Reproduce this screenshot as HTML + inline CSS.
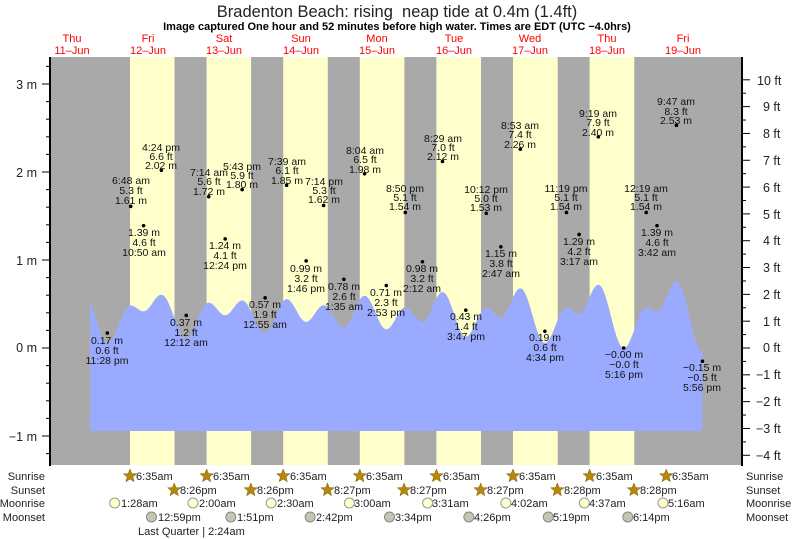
<!DOCTYPE html>
<html><head><meta charset="utf-8"><style>
html,body{margin:0;padding:0;background:#fff}
svg{display:block;font-family:"Liberation Sans",sans-serif}
.l{font-size:10.5px;fill:#111;text-anchor:middle}
.d{font-size:11px;fill:#f00;text-anchor:middle}
.r{font-size:11px;fill:#222}
</style></head><body>
<svg id="s" width="793" height="539" viewBox="0 0 793 539">
<text x="397" y="17" font-size="16.5" text-anchor="middle" fill="#222">Bradenton Beach: rising &#160;neap tide at 0.4m (1.4ft)</text>
<text x="397" y="30" font-size="11" font-weight="bold" text-anchor="middle" fill="#000">Image captured One hour and 52 minutes before high water. Times are EDT (UTC −4.0hrs)</text>
<g class="d">
<text x="72" y="42">Thu</text><text x="72" y="54">11–Jun</text>
<text x="148" y="42">Fri</text><text x="148" y="54">12–Jun</text>
<text x="224" y="42">Sat</text><text x="224" y="54">13–Jun</text>
<text x="301" y="42">Sun</text><text x="301" y="54">14–Jun</text>
<text x="377" y="42">Mon</text><text x="377" y="54">15–Jun</text>
<text x="454" y="42">Tue</text><text x="454" y="54">16–Jun</text>
<text x="530" y="42">Wed</text><text x="530" y="54">17–Jun</text>
<text x="607" y="42">Thu</text><text x="607" y="54">18–Jun</text>
<text x="683" y="42">Fri</text><text x="683" y="54">19–Jun</text>
</g>
<rect x="50" y="57" width="692" height="408" fill="#a9a9a9"/>
<g fill="#ffffcc">
<rect x="130" y="57" width="44.5" height="408"/>
<rect x="206.6" y="57" width="44.5" height="408"/>
<rect x="283.2" y="57" width="44.6" height="408"/>
<rect x="359.8" y="57" width="44.6" height="408"/>
<rect x="436.4" y="57" width="44.6" height="408"/>
<rect x="513" y="57" width="44.7" height="408"/>
<rect x="589.6" y="57" width="44.7" height="408"/>
</g>
<path id="tide" fill="#9aabff" d=""/>
<g id="ax" stroke="#000"></g>
<line x1="50" y1="57" x2="50" y2="466" stroke="#000" stroke-width="2"/>
<line x1="742" y1="57" x2="742" y2="466" stroke="#000" stroke-width="2"/>
<g font-size="12.5" fill="#222" text-anchor="end">
<text x="37" y="89">3 m</text><text x="37" y="177">2 m</text><text x="37" y="265">1 m</text><text x="37" y="352">0 m</text><text x="37" y="441">−1 m</text>
</g>
<g font-size="12.5" fill="#222">
<text x="757" y="85">10 ft</text><text x="763" y="111">9 ft</text><text x="763" y="138">8 ft</text><text x="763" y="165">7 ft</text><text x="763" y="192">6 ft</text><text x="763" y="219">5 ft</text><text x="763" y="245">4 ft</text><text x="763" y="272">3 ft</text><text x="763" y="299">2 ft</text><text x="763" y="326">1 ft</text><text x="763" y="352">0 ft</text><text x="756" y="379">−1 ft</text><text x="756" y="406">−2 ft</text><text x="756" y="433">−3 ft</text><text x="756" y="460">−4 ft</text>
</g>
<g id="dots" fill="#000"></g>
<g class="l">
<text x="131" y="184">6:48 am</text><text x="131" y="194">5.3 ft</text><text x="131" y="204">1.61 m</text>
<text x="161" y="151">4:24 pm</text><text x="161" y="160">6.6 ft</text><text x="161" y="169">2.02 m</text>
<text x="209" y="176">7:14 am</text><text x="209" y="185">5.6 ft</text><text x="209" y="195">1.72 m</text>
<text x="242" y="170">5:43 pm</text><text x="242" y="179">5.9 ft</text><text x="242" y="188">1.80 m</text>
<text x="287" y="165">7:39 am</text><text x="287" y="174">6.1 ft</text><text x="287" y="184">1.85 m</text>
<text x="324" y="185">7:14 pm</text><text x="324" y="194">5.3 ft</text><text x="324" y="203">1.62 m</text>
<text x="365" y="154">8:04 am</text><text x="365" y="163">6.5 ft</text><text x="365" y="173">1.98 m</text>
<text x="405" y="192">8:50 pm</text><text x="405" y="201">5.1 ft</text><text x="405" y="210">1.54 m</text>
<text x="443" y="142">8:29 am</text><text x="443" y="151">7.0 ft</text><text x="443" y="160">2.12 m</text>
<text x="486" y="193">10:12 pm</text><text x="486" y="202">5.0 ft</text><text x="486" y="211">1.53 m</text>
<text x="520" y="129">8:53 am</text><text x="520" y="138">7.4 ft</text><text x="520" y="148">2.26 m</text>
<text x="566" y="192">11:19 pm</text><text x="566" y="201">5.1 ft</text><text x="566" y="210">1.54 m</text>
<text x="598" y="117">9:19 am</text><text x="598" y="126">7.9 ft</text><text x="598" y="136">2.40 m</text>
<text x="646" y="192">12:19 am</text><text x="646" y="201">5.1 ft</text><text x="646" y="210">1.54 m</text>
<text x="676" y="105">9:47 am</text><text x="676" y="115">8.3 ft</text><text x="676" y="124">2.53 m</text>
<text x="107" y="344">0.17 m</text><text x="107" y="354">0.6 ft</text><text x="107" y="364">11:28 pm</text>
<text x="144" y="236">1.39 m</text><text x="144" y="246">4.6 ft</text><text x="144" y="256">10:50 am</text>
<text x="186" y="326">0.37 m</text><text x="186" y="336">1.2 ft</text><text x="186" y="346">12:12 am</text>
<text x="225" y="249">1.24 m</text><text x="225" y="259">4.1 ft</text><text x="225" y="269">12:24 pm</text>
<text x="265" y="308">0.57 m</text><text x="265" y="318">1.9 ft</text><text x="265" y="328">12:55 am</text>
<text x="306" y="272">0.99 m</text><text x="306" y="282">3.2 ft</text><text x="306" y="292">1:46 pm</text>
<text x="344" y="290">0.78 m</text><text x="344" y="300">2.6 ft</text><text x="344" y="310">1:35 am</text>
<text x="386" y="296">0.71 m</text><text x="386" y="306">2.3 ft</text><text x="386" y="316">2:53 pm</text>
<text x="422" y="272">0.98 m</text><text x="422" y="282">3.2 ft</text><text x="422" y="292">2:12 am</text>
<text x="466" y="320">0.43 m</text><text x="466" y="330">1.4 ft</text><text x="466" y="340">3:47 pm</text>
<text x="501" y="257">1.15 m</text><text x="501" y="267">3.8 ft</text><text x="501" y="277">2:47 am</text>
<text x="545" y="341">0.19 m</text><text x="545" y="351">0.6 ft</text><text x="545" y="361">4:34 pm</text>
<text x="579" y="245">1.29 m</text><text x="579" y="255">4.2 ft</text><text x="579" y="265">3:17 am</text>
<text x="624" y="358">−0.00 m</text><text x="624" y="368">−0.0 ft</text><text x="624" y="378">5:16 pm</text>
<text x="657" y="236">1.39 m</text><text x="657" y="246">4.6 ft</text><text x="657" y="256">3:42 am</text>
<text x="702" y="371">−0.15 m</text><text x="702" y="381">−0.5 ft</text><text x="702" y="391">5:56 pm</text>
</g>
<g class="r" text-anchor="end">
<text x="45" y="480">Sunrise</text><text x="45" y="494">Sunset</text><text x="45" y="507">Moonrise</text><text x="45" y="521">Moonset</text>
</g>
<g class="r">
<text x="746" y="480">Sunrise</text><text x="746" y="494">Sunset</text><text x="746" y="507">Moonrise</text><text x="746" y="521">Moonset</text>
</g>
<g id="icons"></g>
<g class="r" font-size="10.5">
<text x="136" y="480">6:35am</text><text x="213" y="480">6:35am</text><text x="290" y="480">6:35am</text><text x="366" y="480">6:35am</text><text x="443" y="480">6:35am</text><text x="519" y="480">6:35am</text><text x="596" y="480">6:35am</text><text x="672" y="480">6:35am</text>
<text x="180" y="494">8:26pm</text><text x="257" y="494">8:26pm</text><text x="334" y="494">8:27pm</text><text x="410" y="494">8:27pm</text><text x="487" y="494">8:27pm</text><text x="564" y="494">8:28pm</text><text x="640" y="494">8:28pm</text>
<text x="121" y="507">1:28am</text><text x="199" y="507">2:00am</text><text x="277" y="507">2:30am</text><text x="354" y="507">3:00am</text><text x="432" y="507">3:31am</text><text x="511" y="507">4:02am</text><text x="589" y="507">4:37am</text><text x="668" y="507">5:16am</text>
<text x="158" y="521">12:59pm</text><text x="237" y="521">1:51pm</text><text x="316" y="521">2:42pm</text><text x="395" y="521">3:34pm</text><text x="474" y="521">4:26pm</text><text x="553" y="521">5:19pm</text><text x="633" y="521">6:14pm</text>
<text x="138" y="535">Last Quarter | 2:24am</text>
</g>
</svg>
<script>
(function(){
var X0=109,P=76.6;
function X(d,h){return X0+P*(d+h/24);}
var ex=[[-1,17,1.8],[-1,23.467,0.17],[0,6.8,1.61],[0,10.833,1.39],[0,16.4,2.02],[1,0.2,0.37],[1,7.233,1.72],[1,12.4,1.24],[1,17.717,1.80],[2,0.917,0.57],[2,7.65,1.85],[2,13.767,0.99],[2,19.233,1.62],[3,1.583,0.78],[3,8.067,1.98],[3,14.883,0.71],[3,20.833,1.54],[4,2.2,0.98],[4,8.483,2.12],[4,15.783,0.43],[4,22.2,1.53],[5,2.783,1.15],[5,8.883,2.26],[5,16.567,0.19],[5,23.317,1.54],[6,3.283,1.29],[6,9.317,2.40],[6,17.267,-0.0],[7,0.317,1.54],[7,3.7,1.39],[7,9.783,2.53],[7,17.933,-0.15],[8,0,1.0]];
var pts=ex.map(function(e){return [X(e[0],e[1]),e[2]];});
function val(x){for(var i=0;i<pts.length-1;i++){var a=pts[i],b=pts[i+1];if(x>=a[0]&&x<=b[0]){var t=(x-a[0])/(b[0]-a[0]);return a[1]+(b[1]-a[1])*(1-Math.cos(Math.PI*t))/2;}}return 0;}
var d="M90,431";for(var x=90;x<=702.4;x+=1){d+=" L"+x.toFixed(1)+","+(348-26.4*val(x)).toFixed(1);}
d+=" L702.4,"+(348-26.4*val(702.4)).toFixed(1)+" L702.4,431 Z";
document.getElementById("tide").setAttribute("d",d);
var ns="http://www.w3.org/2000/svg";
function el(p,tag,at){var e=document.createElementNS(ns,tag);for(var k in at)e.setAttribute(k,at[k]);p.appendChild(e);return e;}
var dots=document.getElementById("dots");
pts.slice(1,-1).forEach(function(p){el(dots,"circle",{cx:p[0],cy:348-88*p[1],r:1.8});});
var ax=document.getElementById("ax");
for(var m=-1.2;m<=3.21;m+=0.2){var y=348-88*m;var maj=Math.abs(m-Math.round(m))<0.01;el(ax,"line",{x1:maj?42:46,x2:50,y1:y,y2:y});}
for(var f=-4;f<=10.01;f+=0.5){var y=348-26.82*f;var maj=Math.abs(f-Math.round(f))<0.01;el(ax,"line",{x1:742,x2:maj?750:746,y1:y,y2:y});}
var ic=document.getElementById("icons");
function star(cx,cy){var s="";for(var i=0;i<10;i++){var r=i%2?3:7,a=-Math.PI/2+i*Math.PI/5;s+=(cx+r*Math.cos(a)).toFixed(1)+","+(cy+r*Math.sin(a)).toFixed(1)+" ";}el(ic,"polygon",{points:s,fill:"#b8860b",stroke:"#7a5a00","stroke-width":0.5});}
for(var i=0;i<8;i++)star(X(i,6.583),476);
[8.433,8.433,8.45,8.45,8.45,8.467,8.467].forEach(function(h,i){star(X(i,12+h),490);});
["1.467","2","2.5","3","3.517","4.033","4.617","5.267"].forEach(function(h,i){el(ic,"circle",{cx:X(i,+h)+1,cy:503,r:5,fill:"#ffffcc",stroke:"#999"});});
[12.983,13.85,14.7,15.567,16.433,17.317,18.233].forEach(function(h,i){el(ic,"circle",{cx:X(i,h)+1,cy:517,r:5,fill:"#c8c4b0",stroke:"#888"});});
})();
</script>
</body></html>
